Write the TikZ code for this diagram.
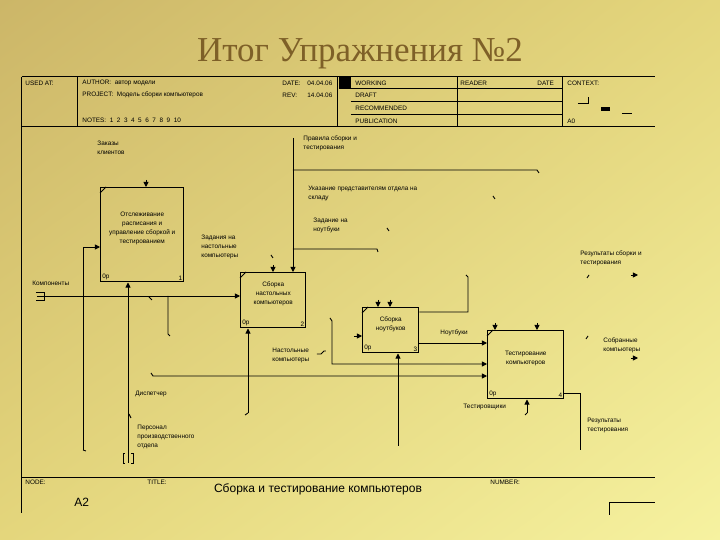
\documentclass[tikz,border=0pt]{standalone}
\usepackage{fontspec}
\setmainfont{Liberation Sans}
\newfontfamily\titlefont{Liberation Serif}
\usetikzlibrary{arrows.meta, shadings}
\definecolor{bgdark}{RGB}{204,182,104}
\definecolor{bgmid}{RGB}{228,214,124}
\definecolor{bglight}{RGB}{246,242,160}
\definecolor{titlebrown}{RGB}{126,96,40}
\begin{document}
\begin{tikzpicture}[
    x=0.5pt, y=-0.5pt,
    frame line/.style={line width=0.5pt},
    thin line/.style={line width=0.45pt},
    flow/.style={line width=0.45pt, -{Triangle[length=2.6pt,width=2.6pt]}},
    activity/.style={draw, line width=0.75pt, anchor=north west, inner sep=0pt},
    boxtext/.style={font=\fontsize{3.2}{4.5}\selectfont, align=center, inner sep=0pt},
    tag/.style={font=\fontsize{3.2}{4.5}\selectfont, align=left, anchor=west, inner sep=0pt},
    big tag/.style={font=\fontsize{6}{7}\selectfont, inner sep=0pt},
    corner/.style={font=\fontsize{3.2}{4}\selectfont, inner sep=1pt},
    every node/.style={color=black}
    ]
    % Background
    \useasboundingbox (0,0) rectangle (720,540);
    \shade[upper left=bgdark, upper right=bgmid, lower left=bgmid, lower right=bglight]
        (0,0) rectangle (720,540);
    % Title
    \node[anchor=base, font=\titlefont\fontsize{17.5}{20}\selectfont, text=titlebrown]
        (title) at (360,62) {Итог Упражнения №2};
    % Frame
    \draw[frame line] (22,77) -- (655,77);
    \draw[frame line] (22,127) -- (655,127);
    \draw[frame line] (22,77) -- (22,513);
    \draw[frame line] (22,478) -- (655,478);
    \draw[frame line] (78,77) -- (78,127);
    \draw[frame line] (338,77) -- (338,127);
    \draw[frame line] (458,77) -- (458,127);
    \draw[frame line] (563,77) -- (563,127);
    \draw[frame line] (351,89) -- (563,89);
    \draw[frame line] (351,102) -- (563,102);
    \draw[frame line] (351,115) -- (563,115);
    \fill (339,77) rectangle (351,89);
    \draw[frame line] (610,515) -- (610,503) -- (655,503);
    % Header
    \node[tag] (usedat) at (25,83) {USED AT:};
    \node[tag] (author) at (82,83) {AUTHOR:\ \ автор модели};
    \node[tag] (project) at (82,95) {PROJECT:\ \ Модель сборки компьютеров};
    \node[tag] (notes) at (82,120) {NOTES:\ \ 1\ \ 2\ \ 3\ \ 4\ \ 5\ \ 6\ \ 7\ \ 8\ \ 9\ \ 10};
    \node[tag] (date) at (282,83) {DATE:};
    \node[tag] (dateval) at (307,83) {04.04.06};
    \node[tag] (rev) at (282,95) {REV:};
    \node[tag] (revval) at (307,95) {14.04.06};
    \node[tag] (working) at (355,83) {WORKING};
    \node[tag] (draft) at (355,95) {DRAFT};
    \node[tag] (recommended) at (355,108) {RECOMMENDED};
    \node[tag] (publication) at (355,121) {PUBLICATION};
    \node[tag] (reader) at (460,83) {READER};
    \node[tag] (readerdate) at (537,83) {DATE};
    \node[tag] (context) at (567,83) {CONTEXT:};
    \node[tag] (parent) at (567,121) {A0};
    \draw[thin line] (578,103) -- (588,103) -- (588,97);
    \fill (601,107) rectangle (610,111);
    \draw[thin line] (622,113) -- (632,113);
    % Footer
    \node[tag] (node) at (25,482) {NODE:};
    \node[tag] (titlelabel) at (147,482) {TITLE:};
    \node[tag] (number) at (490,482) {NUMBER:};
    \node[big tag] (diagramtitle) at (318,489) {Сборка и тестирование компьютеров};
    \node[big tag, anchor=west] (nodenum) at (74,502) {A2};
    % Boxes
    \node[activity, minimum width=41.5pt, minimum height=47pt] (b1) at (100,187) {};
    \node[activity, minimum width=32.5pt, minimum height=27.5pt] (b2) at (240,272) {};
    \node[activity, minimum width=28pt, minimum height=22.5pt] (b3) at (362,307) {};
    \node[activity, minimum width=38pt, minimum height=34pt] (b4) at (487,330) {};
    \node[boxtext] (b1text) at ([yshift=3pt]b1.center)
        {Отслеживание\\расписания и\\управление сборкой и\\тестированием};
    \node[boxtext] (b2text) at ([yshift=3pt]b2.center) {Сборка\\настольных\\компьютеров};
    \node[boxtext] (b3text) at ([yshift=3pt]b3.center) {Сборка\\ноутбуков};
    \node[boxtext] (b4text) at ([yshift=3pt]b4.center) {Тестирование\\компьютеров};
    \node[corner, anchor=south west] (b1cost) at (b1.south west) {0р};
    \node[corner, anchor=south east] (b1num) at (b1.south east) {1};
    \node[corner, anchor=south west] (b2cost) at (b2.south west) {0р};
    \node[corner, anchor=south east] (b2num) at (b2.south east) {2};
    \node[corner, anchor=south west] (b3cost) at (b3.south west) {0р};
    \node[corner, anchor=south east] (b3num) at (b3.south east) {3};
    \node[corner, anchor=south west] (b4cost) at (b4.south west) {0р};
    \node[corner, anchor=south east] (b4num) at (b4.south east) {4};
    \draw[thin line] ([yshift=-3pt]b1.north west) -- ([xshift=3pt]b1.north west);
    \draw[thin line] ([yshift=-3pt]b2.north west) -- ([xshift=3pt]b2.north west);
    \draw[thin line] ([yshift=-3pt]b3.north west) -- ([xshift=3pt]b3.north west);
    \draw[thin line] ([yshift=-3pt]b4.north west) -- ([xshift=3pt]b4.north west);
    % Labels
    \node[tag] (orders) at (97,148) {Заказы\\клиентов};
    \node[tag] (rules) at (303,143) {Правила сборки и\\тестирования};
    \node[tag] (stock) at (308,193) {Указание представителям отдела на\\складу};
    \node[tag] (nbtask) at (313,225) {Задание на\\ноутбуки};
    \node[tag] (desktask) at (201,247) {Задания на\\настольные\\компьютеры};
    \node[tag] (parts) at (32,283) {Компоненты};
    \node[tag] (desktops) at (272,355) {Настольные\\компьютеры};
    \node[tag] (notebooks) at (440,333) {Ноутбуки};
    \node[tag] (dispatcher) at (135,394) {Диспетчер};
    \node[tag] (personnel) at (137,437) {Персонал\\производственного\\отдела};
    \node[tag] (testers) at (463,407) {Тестировщики};
    \node[tag] (results) at (580,258) {Результаты сборки и\\тестирования};
    \node[tag] (assembled) at (603,345) {Собранные\\компьютеры};
    \node[tag] (testresults) at (587,425) {Результаты\\тестирования};
    % Arrows of box 1
    \coordinate (orderend) at (146,180);
    \draw[flow] (orderend) -- (orderend |- b1.north);
    \coordinate (staffend) at (83,450);
    \coordinate (staffturn) at (83,247);
    \draw[flow] (staffend) -- (staffturn) -- (staffturn -| b1.west);
    \draw[thin line] (83,450) -- (86,451);
    \coordinate (dispend) at (128,463);
    \draw[flow] (dispend) -- (dispend |- b1.south);
    \draw[thin line] (125,453) -- (123,453) -- (123,463) -- (125,463);
    \draw[thin line] (131,453) -- (133,453) -- (133,463) -- (131,463);
    \draw[thin line] (129,414) -- (131,418);
    % Arrows of box 2
    \coordinate (partsend) at (37,296);
    \draw[flow] (partsend) -- (partsend -| b2.west);
    \draw[thin line] (36,292) -- (44,292) -- (44,300) -- (36,300);
    \draw[thin line] (149,297) -- (152,300);
    \draw[thin line] (168,296) -- (168,334) -- (170,336);
    \coordinate (rulesend) at (293,138);
    \draw[flow] (rulesend) -- (rulesend |- b2.north);
    \draw[thin line] (293,170) -- (537,170) -- (539,173);
    \draw[thin line] (293,249) -- (377,249) -- (378,252);
    \draw[thin line] (493,196) -- (495,199);
    \draw[thin line] (387,228) -- (389,231);
    \coordinate (desktaskend) at (273,265);
    \draw[flow] (desktaskend) -- (desktaskend |- b2.north);
    \draw[thin line] (271,255) -- (273,258);
    \coordinate (asm2end) at (248,413);
    \draw[flow] (asm2end) -- (asm2end |- b2.south);
    \draw[thin line] (245,415) -- (asm2end);
    % Arrows of box 3
    \coordinate (nbctl1) at (378,300);
    \coordinate (nbctl2) at (390,300);
    \draw[flow] (nbctl1) -- (nbctl1 |- b3.north);
    \draw[flow] (nbctl2) -- (nbctl2 |- b3.north);
    \coordinate (nbin) at (354,336);
    \draw[flow] (nbin) -- (nbin -| b3.west);
    \coordinate (nbmech) at (398,446);
    \draw[flow] (nbmech) -- (nbmech |- b3.south);
    \coordinate (nbturn) at (468,312);
    \coordinate (nbout) at (468,277);
    \draw[thin line] (nbturn -| b3.east) -- (nbturn) -- (nbout) -- (466,275);
    \coordinate (nbrow) at (440,343);
    \draw[flow] (nbrow -| b3.east) -- (nbrow -| b4.west);
    % Arrows of box 4
    \coordinate (deskstart) at (330,318);
    \coordinate (deskturn) at (332,364);
    \draw[flow] (deskstart) -- (332,321) -- (deskturn) -- (deskturn -| b4.west);
    \draw[thin line] (317,354) -- (321,354) -- (324,351) -- (326,351);
    \coordinate (lowstart) at (153,376);
    \draw[flow] (151,373) -- (lowstart) -- (lowstart -| b4.west);
    \coordinate (testctl1) at (495,323);
    \coordinate (testctl2) at (537,323);
    \draw[flow] (testctl1) -- (testctl1 |- b4.north);
    \draw[flow] (testctl2) -- (testctl2 |- b4.north);
    \coordinate (testmech) at (527,413);
    \draw[flow] (testmech) -- (testmech |- b4.south);
    \draw[thin line] (525,415) -- (testmech);
    \coordinate (testturn) at (580,393);
    \draw[thin line] (testturn -| b4.east) -- (testturn) -- (580,450);
    % Outputs
    \coordinate (resultsend) at (638,275);
    \draw[flow] (631,275) -- (resultsend);
    \coordinate (assembledend) at (638,358);
    \draw[flow] (631,358) -- (assembledend);
    \draw[thin line] (587,278) -- (589,275);
    \draw[thin line] (586,339) -- (588,336);
\end{tikzpicture}
\end{document}
